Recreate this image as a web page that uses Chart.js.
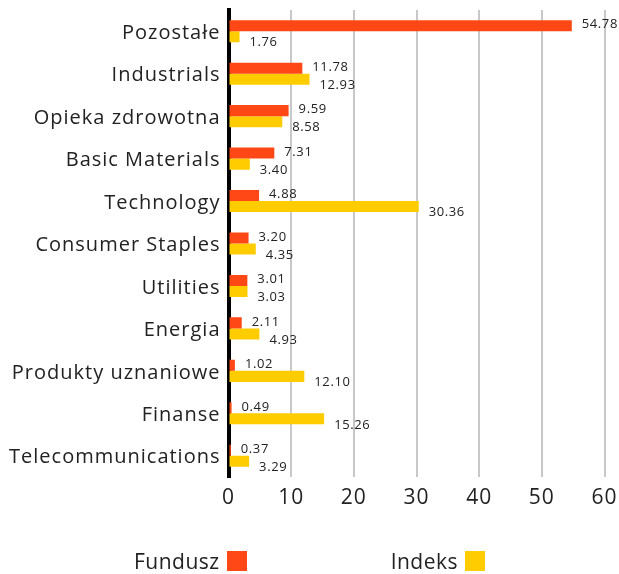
<!DOCTYPE html>
<html>
<head>
<meta charset="utf-8">
<script src="https://cdn.jsdelivr.net/npm/chart.js@4/dist/chart.umd.min.js"></script>
<style>
  html, body { margin: 0; padding: 0; background: #fff; }
  #wrap { position: relative; width: 619px; height: 574px; }
  #legend { position: absolute; left: 0; top: 547px; width: 619px; display: flex; justify-content: center; gap: 144px;
            font-family: "Open Sans", sans-serif; font-size: 21px; letter-spacing: 0.5px; color: #222; }
  .item { display: flex; align-items: center; }
  .box { width: 20px; height: 20px; margin-left: 7px; }
</style>
</head>
<body>
<div id="wrap">
  <canvas id="c" width="619" height="574"></canvas>
  <div id="legend"></div>
</div>
<script>
const categories = ["Pozostałe", "Industrials", "Opieka zdrowotna", "Basic Materials", "Technology", "Consumer Staples", "Utilities", "Energia", "Produkty uznaniowe", "Finanse", "Telecommunications"];
const fundusz = [54.78, 11.78, 9.59, 7.31, 4.88, 3.20, 3.01, 2.11, 1.02, 0.49, 0.37];
const indeks = [1.76, 12.93, 8.58, 3.40, 30.36, 4.35, 3.03, 4.93, 12.10, 15.26, 3.29];
const seriesNames = ["Fundusz", "Indeks"];
const seriesColors = ["#FF4815", "#FFCC00"];
const xTicks = [0, 10, 20, 30, 40, 50, 60];

const FONT = '"Open Sans", sans-serif';

const spacing = {
  id: 'spacing',
  beforeDraw(chart) { chart.ctx.letterSpacing = '1px'; },
  afterDraw(chart) { chart.ctx.letterSpacing = '0px'; }
};

const valueLabels = {
  id: 'valueLabels',
  afterDatasetsDraw(chart) {
    const ctx = chart.ctx;
    ctx.save();
    ctx.letterSpacing = '0.6px';
    ctx.font = '13px ' + FONT;
    ctx.fillStyle = '#222';
    ctx.textAlign = 'left';
    ctx.textBaseline = 'middle';
    chart.data.datasets.forEach((ds, di) => {
      const meta = chart.getDatasetMeta(di);
      meta.data.forEach((bar, i) => {
        const dy = di === 0 ? -1 : 6;
        ctx.fillText(ds.data[i].toFixed(2), bar.x + 10, bar.y + dy);
      });
    });
    ctx.restore();
  }
};

new Chart(document.getElementById('c'), {
  type: 'bar',
  data: {
    labels: categories,
    datasets: [
      { label: seriesNames[0], data: fundusz, backgroundColor: seriesColors[0] },
      { label: seriesNames[1], data: indeks, backgroundColor: seriesColors[1] }
    ]
  },
  options: {
    indexAxis: 'y',
    responsive: false,
    animation: false,
    devicePixelRatio: 1,
    layout: { padding: { top: 10, right: 14.5, left: 0, bottom: 0 } },
    datasets: { bar: { categoryPercentage: 0.52, barPercentage: 1.0 } },
    plugins: { legend: { display: false }, tooltip: { enabled: false } },
    scales: {
      x: {
        min: 0, max: 60,
        afterBuildTicks(scale) { scale.ticks = xTicks.map(v => ({ value: v })); },
        afterFit(scale) { scale.height = 97; scale.paddingLeft = 0; scale.paddingRight = 0; },
        grid: { color: '#c8c8c8', lineWidth: 2, drawTicks: false },
        border: { display: false },
        ticks: { padding: 8, color: '#222', font: { family: FONT, size: 21 } }
      },
      y: {
        afterFit(scale) { scale.width = 228.5; scale.paddingTop = 0; scale.paddingBottom = 0; },
        grid: { display: false, drawTicks: false },
        border: { display: true, color: '#000', width: 4 },
        ticks: { padding: 8, labelOffset: 2, color: '#222', font: { family: FONT, size: 20 } }
      }
    }
  },
  plugins: [spacing, valueLabels]
});

const legend = document.getElementById('legend');
seriesNames.forEach((n, i) => {
  const it = document.createElement('div');
  it.className = 'item';
  const t = document.createElement('span');
  t.textContent = n;
  const b = document.createElement('span');
  b.className = 'box';
  b.style.background = seriesColors[i];
  it.appendChild(t); it.appendChild(b);
  legend.appendChild(it);
});
</script>
</body>
</html>
